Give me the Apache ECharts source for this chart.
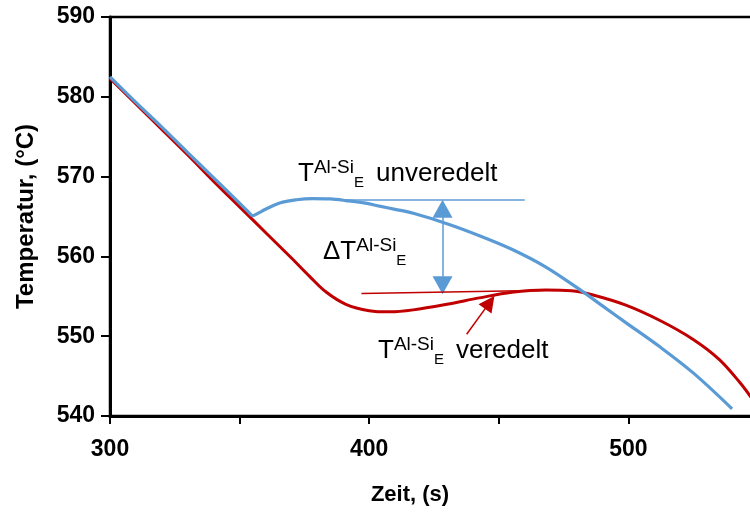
<!DOCTYPE html>
<html>
<head>
<meta charset="utf-8">
<script src="https://cdn.jsdelivr.net/npm/echarts@6/dist/echarts.min.js"></script>
<style>html,body{margin:0;padding:0;background:#fff;}#c{width:750px;height:512px;}</style>
</head>
<body>
<div id="c"></div>
<script>
// Unveredelt (blue)
const timeUnveredelt = [300, 310, 320, 330, 340, 348, 353.5, 355, 356.5, 360, 365.5, 372, 378, 385, 391, 398, 404, 410, 417, 430, 442.5, 455, 468, 481, 490, 499, 512, 525, 540];
const tempUnveredelt = [582.5, 579.3, 576.2, 573.0, 569.85, 567.3, 565.55, 565.1, 565.3, 565.9, 566.7, 567.1, 567.25, 567.2, 567.0, 566.7, 566.3, 565.9, 565.4, 564.1, 562.6, 560.9, 558.7, 555.9, 553.8, 551.7, 548.7, 545.4, 540.9];
// Veredelt (red)
const timeVeredelt = [300, 310, 320, 330, 340, 350, 360, 370, 377, 383.5, 391, 400, 408, 417, 430, 442.5, 455, 468, 478, 486, 499, 512, 525, 535, 543, 547, 550];
const tempVeredelt = [582.3, 579.1, 575.9, 572.7, 569.4, 566.2, 563.0, 559.8, 557.5, 555.5, 554.0, 553.2, 553.05, 553.3, 554.0, 554.8, 555.5, 555.8, 555.7, 555.2, 553.9, 552.0, 549.6, 547.1, 544.2, 542.5, 541.1];
// Annotation values
const eutecticUnveredelt = 567.1;
const eutecticUnveredeltRange = [388, 460];
const eutecticVeredelt = [555.35, 555.8];
const eutecticVeredeltRange = [397, 475];
const deltaTime = 428.3;
const deltaArrowEnds = [556.4, 565.97];
const arrowFrom = [437.6, 550.25];
const arrowTo = [446.5, 554.24];
const xTickLabels = [300, 400, 500];

const BLUE = '#5B9BD5';
const RED = '#C00000';

const pair = (xs, ys) => xs.map((x, i) => [x, ys[i]]);

const chart = echarts.init(document.getElementById('c'), null, {renderer: 'canvas'});
const font = 'Liberation Sans';
const richStyle = (color) => ({
  m: {fontFamily: font, fontSize: 26, color: color, lineHeight: 32},
  g: {fontFamily: font, fontSize: 26, color: color, lineHeight: 32, width: 12},
  sup: {fontFamily: font, fontSize: 19, color: color, lineHeight: 22, verticalAlign: 'top'},
  sub: {fontFamily: font, fontSize: 15, color: color, lineHeight: 12, verticalAlign: 'bottom'}
});

chart.setOption({
  animation: false,
  grid: {left: 110, top: 17, right: -8, bottom: 96, show: true, borderColor: '#000', borderWidth: 2.5,
         outerBoundsMode: 'none', containLabel: false},
  xAxis: {
    type: 'value', min: 300, max: 550, interval: 50,
    name: 'Zeit, (s)', nameLocation: 'middle', nameGap: 68,
    nameTextStyle: {fontFamily: font, fontWeight: 'bold', fontSize: 22, color: '#000', padding: [0, 48, 0, 0]},
    axisLine: {lineStyle: {color: '#000', width: 3}},
    axisTick: {show: true, inside: false, length: 8, lineStyle: {color: '#000', width: 2}},
    axisLabel: {fontFamily: font, fontWeight: 'bold', fontSize: 23, color: '#000', margin: 22,
      formatter: v => xTickLabels.indexOf(v) >= 0 ? String(v) : ''},
    splitLine: {show: false}
  },
  yAxis: {
    type: 'value', min: 540, max: 590, interval: 10,
    name: 'Temperatur, (°C)', nameLocation: 'middle', nameGap: 72, nameRotate: 90,
    nameTextStyle: {fontFamily: font, fontWeight: 'bold', fontSize: 24, color: '#000'},
    axisLine: {show: true, lineStyle: {color: '#000', width: 3}},
    axisTick: {show: true, inside: false, length: 9, lineStyle: {color: '#000', width: 2}},
    axisLabel: {fontFamily: font, fontWeight: 'bold', fontSize: 23, color: '#000', margin: 15},
    splitLine: {show: false}
  },
  series: [
    {
      type: 'line', data: pair(timeUnveredelt, tempUnveredelt), smooth: 0.35, showSymbol: false,
      lineStyle: {color: BLUE, width: 3.2}, z: 3,
      markLine: {
        silent: true, animation: false, label: {show: false},
        symbol: ['none', 'none'],
        lineStyle: {color: BLUE, width: 1.5, type: 'solid'},
        data: [
          [{coord: [eutecticUnveredeltRange[0], eutecticUnveredelt]}, {coord: [eutecticUnveredeltRange[1], eutecticUnveredelt]}],
          [{coord: [deltaTime, deltaArrowEnds[0]], symbol: 'triangle', symbolSize: [20, 18]},
           {coord: [deltaTime, deltaArrowEnds[1]], symbol: 'triangle', symbolSize: [20, 18]}]
        ]
      }
    },
    {
      type: 'line', data: pair(timeVeredelt, tempVeredelt), smooth: 0.35, showSymbol: false,
      lineStyle: {color: RED, width: 3}, z: 2,
      markLine: {
        silent: true, animation: false, label: {show: false},
        symbol: ['none', 'none'],
        lineStyle: {color: RED, width: 1.5, type: 'solid'},
        data: [
          [{coord: [eutecticVeredeltRange[0], eutecticVeredelt[0]]}, {coord: [eutecticVeredeltRange[1], eutecticVeredelt[1]]}],
          [{coord: arrowFrom}, {coord: arrowTo, symbol: 'triangle', symbolSize: [16, 16]}]
        ]
      }
    }
  ],
  graphic: [
    {type: 'text', left: 298, top: 158, z: 10, style: {text: '{m|T}{sup|Al-Si}{sub|E}{g| }{m|unveredelt}', rich: richStyle(BLUE)}},
    {type: 'text', left: 323, top: 236, z: 10, style: {text: '{m|ΔT}{sup|Al-Si}{sub|E}', rich: richStyle(BLUE)}},
    {type: 'text', left: 378, top: 335, z: 10, style: {text: '{m|T}{sup|Al-Si}{sub|E}{g| }{m|veredelt}', rich: richStyle(RED)}}
  ]
});
</script>
</body>
</html>
